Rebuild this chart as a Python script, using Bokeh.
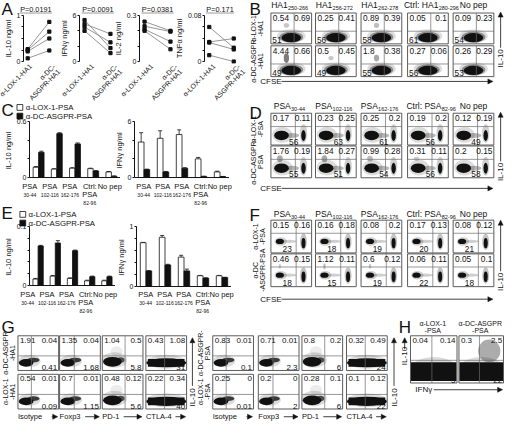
import math
from bokeh.plotting import figure
from bokeh.models import (Range1d, FactorRange, FixedTicker, ColumnDataSource, Arrow, NormalHead,
                          Span, GridBox)
from bokeh.core.properties import value
from bokeh.transform import dodge
from bokeh.embed import file_html
from bokeh.resources import INLINE

FONT = "Liberation Sans"
INK = "#111111"
BOXC = "#4a4a4a"
W_OUT, H_OUT = 504, 422
W_REF, H_REF = 520.0, 438.0
SX = W_OUT / W_REF
SY = H_OUT / H_REF

# ---------------------------------------------------------------- data
# Panel A (paired donors)
A_groups = ["α-LOX-1-HA1", "α-DC-\nASGPR-HA1"]
A_pvalues = ["P=0.0191", "P=0.0091", "P=0.0381", "P=0.171"]
A_ylabels = ["IL-10 ng/ml", "IFNγ ng/ml", "IL-2 ng/ml", "TNFα ng/ml"]
A_ymax = [1.0, 6.0, 0.3, 0.08]
A_ymax_labels = ["1", "6", "0.3", "0.08"]
A_minor = [[0.25, 0.5, 0.75], [2, 4], [0.1, 0.2], [0.02, 0.04, 0.06]]
A_il10_lox = [0.27, 0.25, 0.22, 0.07]
A_il10_asgpr = [0.86, 0.65, 0.50, 0.24]
A_ifng_lox = [5.4, 4.9, 4.5, 4.0]
A_ifng_asgpr = [1.75, 3.6, 2.5, 1.1]
A_il2_lox = [0.26, 0.23, 0.21, 0.20]
A_il2_asgpr = [0.20, 0.195, 0.13, 0.08]
A_tnfa_lox = [0.060, 0.034, 0.033, 0.011]
A_tnfa_asgpr = [0.024, 0.040, 0.021, 0.0]
A_lox = [A_il10_lox, A_ifng_lox, A_il2_lox, A_tnfa_lox]
A_asgpr = [A_il10_asgpr, A_ifng_asgpr, A_il2_asgpr, A_tnfa_asgpr]

# Panels C / E (bars, mean + error)
PSA_groups = ["PSA 30-44", "PSA 102-116", "PSA 162-176", "Ctrl: PSA 82-96", "No pep"]
PSA_main = ["PSA", "PSA", "PSA", "Ctrl:", "No pep"]
PSA_sub = ["30-44", "102-116", "162-176", "82-96", ""]
series_names = ["α-LOX-1-PSA", "α-DC-ASGPR-PSA"]
C_il10_lox = [0.11, 0.09, 0.10, 0.095, 0.06]
C_il10_lox_err = [0.008, 0.004, 0.005, 0.005, 0.004]
C_il10_asgpr = [0.27, 0.47, 0.36, 0.07, 0.014]
C_il10_asgpr_err = [0.012, 0.010, 0.010, 0.004, 0.003]
C_ifng_lox = [3.8, 4.2, 4.6, 2.0, 0.6]
C_ifng_lox_err = [1.0, 0.8, 0.5, 0.15, 0.08]
C_ifng_asgpr = [0.85, 0.6, 1.0, 0.12, 0.1]
C_ifng_asgpr_err = [0.05, 0.05, 0.05, 0.02, 0.02]
E_il10_lox = [0.011, 0.016, 0.012, 0.008, 0.008]
E_il10_lox_err = [0.001, 0.001, 0.001, 0.001, 0.001]
E_il10_asgpr = [0.067, 0.072, 0.059, 0.015, 0.015]
E_il10_asgpr_err = [0.001, 0.004, 0.001, 0.001, 0.001]
E_ifng_lox = [0.73, 0.82, 0.49, 0.18, 0.18]
E_ifng_lox_err = [0.005, 0.03, 0.03, 0.005, 0.005]
E_ifng_asgpr = [0.26, 0.36, 0.26, 0.14, 0.15]
E_ifng_asgpr_err = [0.005, 0.01, 0.03, 0.005, 0.005]

# Panel B (IL-10 vs CFSE, % per quadrant)
B_cols = [("HA1", "250-266"), ("HA1", "256-272"), ("HA1", "262-278"), ("Ctrl: HA1", "280-296"), ("No pep", "")]
B_rows = ["α-LOX-1\n-HA1", "α-DC-ASGPR\n-HA1"]
B_ul = [[0.54, 0.25, 0.89, 0.05, 0.09], [4.44, 0.5, 1.8, 0.27, 0.26]]
B_ur = [[0.69, 0.41, 0.39, 0.1, 0.23], [0.66, 0.45, 0.38, 0.06, 0.29]]
B_ll = [[51, 56, 58, 61, 54], [49, 49, 55, 56, 53]]

# Panels D / F
PSA_cols = [("PSA", "30-44"), ("PSA", "102-116"), ("PSA", "162-176"), ("Ctrl: PSA", "82-96"), ("No pep", "")]
D_rows = ["α-LOX-1\n-PSA", "α-DC-ASGPR-\nPSA"]
D_ul = [[0.17, 0.23, 0.25, 0.19, 0.12], [1.76, 1.84, 0.99, 0.31, 0.2]]
D_ur = [[0.11, 0.25, 0.2, 0.2, 0.19], [0.19, 0.27, 0.28, 0.11, 0.15]]
D_lo = [[56, 63, 61, 56, 49], [55, 51, 54, 56, 58]]
F_rows = ["α-LOX-1\n-PSA", "α-DC\n-ASGPR-PSA"]
F_ul = [[0.15, 0.16, 0.08, 0.17, 0.08], [0.46, 1.12, 0.6, 0.06, 0.05]]
F_ur = [[0.16, 0.18, 0.2, 0.13, 0.12], [0.15, 0.11, 0.12, 0.11, 0.1]]
F_lo = [[23, 18, 19, 20, 21], [18, 15, 19, 22, 18]]

# Panel G
G_markers = ["Isotype", "Foxp3", "PD-1", "CTLA-4"]
G_rows_ha1 = ["α-DC-ASGPR\n-HA1", "α-LOX-1\n-HA1"]
G_rows_psa = ["α-DC-ASGPR-\nPSA", "α-LOX-1\n-PSA"]
G_ha1_ul = [[1.91, 1.35, 1.04, 0.43], [0.54, 0.7, 0.48, 0.22]]
G_ha1_ur = [[0.04, 0.04, 0.5, 1.08], [0.01, 0.01, 0.12, 0.34]]
G_ha1_lr = [[0.41, 1.68, 5.8, 31], [0.09, 1.15, 5.6, 40]]
G_psa_ul = [[0.83, 0.71, 0.8, 0.32], [0.25, 0.2, 0.28, 0.1]]
G_psa_ur = [[0.01, 0.01, 0.2, 0.49], [0, 0, 0.1, 0.12]]
G_psa_lr = [[0.1, 2.3, 6, 24], [0.01, 2, 6, 22]]

# Panel H
H_titles = ["α-LOX-1\n-PSA", "α-DC-ASGPR\n-PSA"]
H_ul = [0.04, 0.3]
H_ur = [0.14, 2.5]
H_lr = [5, 22]


# ---------------------------------------------------------------- helpers
def est_w(s, fs):
    return len(s) * fs * 0.55 / SX


def fmt(v):
    return str(v)


def style_axis(ax):
    ax.major_label_text_font = FONT
    ax.major_label_text_font_size = "7px"
    ax.major_label_text_color = INK
    ax.axis_label_text_font = FONT
    ax.axis_label_text_font_size = "7.5px"
    ax.axis_label_text_font_style = "normal"
    ax.axis_label_text_color = INK
    ax.axis_label_standoff = 1
    ax.major_label_standoff = 1
    ax.major_tick_in = 0
    ax.major_tick_out = 2
    ax.minor_tick_in = 0
    ax.minor_tick_out = 2
    ax.axis_line_color = INK
    ax.major_tick_line_color = INK
    ax.minor_tick_line_color = INK


def data_fig(fl, fr, ft, fb, L, x_range, y_range, T=6, B=6):
    """Figure whose frame covers the reference box (fl..fr, ft..fb); placed with margins."""
    lo, ro = round(fl * SX), round(fr * SX)
    to, bo = round(ft * SY), round(fb * SY)
    p = figure(width=L + (ro - lo), height=T + (bo - to) + B, x_range=x_range, y_range=y_range,
               output_backend="svg", toolbar_location=None, x_axis_location=None, title=None,
               min_border_left=L, min_border_right=0, min_border_top=T, min_border_bottom=B)
    p.background_fill_color = None
    p.border_fill_color = None
    p.outline_line_color = None
    p.grid.visible = False
    p.frame_align = False
    p.margin = (to - T, 0, 0, max(0, lo - L))
    return p


def y_range_for(ymax, top_ref, zero_ref, pad_top, pad_bot):
    u = ymax / (zero_ref - top_ref)
    return Range1d(-pad_bot * u, ymax + pad_top * u)


class Overlay:
    def __init__(self):
        p = figure(width=W_OUT, height=H_OUT, x_range=Range1d(0, W_REF), y_range=Range1d(H_REF, 0),
                   output_backend="svg", toolbar_location=None, x_axis_location=None,
                   y_axis_location=None, min_border=0, title=None)
        p.background_fill_color = None
        p.border_fill_color = None
        p.outline_line_color = None
        p.grid.visible = False
        p.frame_align = False
        p.margin = (0, 0, 0, 0)
        self.p = p
        self.q = dict(l=[], r=[], t=[], b=[])
        self.s = dict(x0=[], y0=[], x1=[], y1=[])
        self.e = dict(x=[], y=[], w=[], h=[], a=[])
        self.rc = dict(x=[], y=[], w=[], h=[], a=[])
        self.sq = dict(l=[], r=[], t=[], b=[], c=[])
        self.ln = dict(x0=[], y0=[], x1=[], y1=[])
        self.t = {}
        self.arrows = []

    def box(self, bx, by, bw, bh, vline, hline, blobs):
        for kind, u, v, w, h, a in blobs:
            d = self.e if kind == "e" else self.rc
            d["x"].append(bx + u * bw)
            d["y"].append(by + (1 - v) * bh)
            d["w"].append(w * bw)
            d["h"].append(h * bh)
            d["a"].append(a)
        self.q["l"].append(bx); self.q["r"].append(bx + bw)
        self.q["t"].append(by); self.q["b"].append(by + bh)
        vx = bx + vline * bw
        hy = by + (1 - hline) * bh
        self.s["x0"] += [vx, bx]; self.s["x1"] += [vx, bx + bw]
        self.s["y0"] += [by, hy]; self.s["y1"] += [by + bh, hy]

    def square(self, l, t, size, color):
        self.sq["l"].append(l); self.sq["r"].append(l + size)
        self.sq["t"].append(t); self.sq["b"].append(t + size); self.sq["c"].append(color)

    def line(self, x0, y0, x1, y1):
        self.ln["x0"].append(x0); self.ln["y0"].append(y0)
        self.ln["x1"].append(x1); self.ln["y1"].append(y1)

    def text(self, x, y, s, fs, align="left", baseline="middle", angle=0.0, lh=1.0):
        d = self.t.setdefault((fs, align, baseline, angle, lh), dict(x=[], y=[], s=[]))
        d["x"].append(x); d["y"].append(y); d["s"].append(s)

    def arrow(self, x0, y0, x1, y1):
        self.arrows.append((x0, y0, x1, y1))

    def title(self, base, sub, cx, y, fs=8.5, sfs=5.5):
        if sub:
            a = cx + (est_w(base, fs) - est_w(sub, sfs)) / 2
            self.text(a, y, base, fs, "right", "middle")
            self.text(a + 0.3, y + 2.5, sub, sfs, "left", "middle")
        else:
            self.text(cx, y, base, fs, "center", "middle")

    def flush(self):
        p = self.p
        p.ellipse(x="x", y="y", width="w", height="h", fill_alpha="a", source=ColumnDataSource(self.e),
                  fill_color=INK, line_color=None)
        p.rect(x="x", y="y", width="w", height="h", fill_alpha="a", source=ColumnDataSource(self.rc),
               fill_color=INK, line_color=None)
        p.quad(left="l", right="r", top="t", bottom="b", source=ColumnDataSource(self.q),
               fill_color=None, line_color=BOXC, line_width=0.9)
        p.segment(x0="x0", y0="y0", x1="x1", y1="y1", source=ColumnDataSource(self.s),
                  line_color="#6a6a6a", line_width=0.7)
        p.segment(x0="x0", y0="y0", x1="x1", y1="y1", source=ColumnDataSource(self.ln),
                  line_color="#555555", line_width=0.6)
        p.quad(left="l", right="r", top="t", bottom="b", fill_color="c", source=ColumnDataSource(self.sq),
               line_color=INK, line_width=0.8)
        for (fs, align, baseline, angle, lh), d in self.t.items():
            p.text(x=d["x"], y=d["y"], text=d["s"], text_font=value(FONT), text_font_size=f"{fs}px",
                   text_align=align, text_baseline=baseline, angle=angle, text_color=INK,
                   text_line_height=lh)
        for x0, y0, x1, y1 in self.arrows:
            p.add_layout(Arrow(end=NormalHead(size=5, fill_color=INK, line_color=INK, line_width=0.5),
                               x_start=x0, y_start=y0, x_end=x1, y_end=y1,
                               line_color=INK, line_width=0.8))
        return p


OV = Overlay()
FIGS = []


def ul_blob(ul, u, v, w):
    if ul < 0.3:
        return []
    return [("e", u, v, w, min(0.4, 0.12 * math.sqrt(ul) + 0.06), min(0.55, 0.18 + 0.1 * ul))]


# ---------------------------------------------------------------- panel A
A_frames = [(18, 55), (82, 119), (143, 181), (207, 246)]
A_TOP, A_ZERO = 16, 63
A_PAD = -0.306


def a_plot(i):
    fl, fr = A_frames[i]
    L = 17 if i == 0 else 30
    p = data_fig(fl, fr, A_TOP - 2, A_ZERO + 2, L,
                 FactorRange(*A_groups, range_padding=A_PAD),
                 y_range_for(A_ymax[i], A_TOP, A_ZERO, 2, 2))
    n = len(A_lox[i])
    for k in range(n):
        p.line(x=A_groups, y=[A_lox[i][k], A_asgpr[i][k]], line_color="#8a8a8a", line_width=0.9)
    p.scatter(x=[A_groups[0]] * n + [A_groups[1]] * n, y=A_lox[i] + A_asgpr[i],
              marker="square", size=3.2, color=INK)
    style_axis(p.yaxis)
    p.yaxis.ticker = FixedTicker(ticks=[0, A_ymax[i]], minor_ticks=A_minor[i])
    p.yaxis.major_label_overrides = {0: "0", A_ymax[i]: A_ymax_labels[i]}
    p.yaxis.axis_label = A_ylabels[i]
    p.yaxis.bounds = (0, A_ymax[i])
    FIGS.append(p)
    # decorations (reference-pixel positions)
    cx = (fl + fr) / 2
    OV.text(cx, 9, A_pvalues[i], 7.3, "center", "middle")
    wpx = est_w(A_pvalues[i], 7.3)
    OV.line(cx - wpx / 2, 13, cx + wpx / 2, 13)
    w = fr - fl
    f0 = (0.5 - (-A_PAD)) / (2 + 2 * A_PAD)
    for k, g in enumerate(A_groups):
        xk = fl + (f0 if k == 0 else 1 - f0) * w
        OV.text(xk + 8, 67 if k == 0 else 70, g, 7.0, "right", "middle", math.pi / 4)


# ---------------------------------------------------------------- panels C / E
def bar_plot(fl, fr, top_ref, zero_ref, L, lox, lox_err, asg, asg_err, ymax, ymax_label, minor, ylabel,
             lab_y, legend_xy=None):
    p = data_fig(fl, fr, top_ref - 1, zero_ref + 1, L, FactorRange(*PSA_groups),
                 y_range_for(ymax, top_ref, zero_ref, 1, 1))
    src = ColumnDataSource(dict(g=PSA_groups, lox=lox, asg=asg,
                                lox_top=[a + b for a, b in zip(lox, lox_err)],
                                asg_top=[a + b for a, b in zip(asg, asg_err)]))
    xl = dodge("g", -0.15, range=p.x_range)
    xa = dodge("g", 0.15, range=p.x_range)
    for xx, yy, tt in ((xl, "lox", "lox_top"), (xa, "asg", "asg_top")):
        p.segment(x0=xx, y0=yy, x1=xx, y1=tt, source=src, line_color=INK, line_width=0.8)
        p.scatter(x=xx, y=tt, marker="dash", size=4, line_color=INK, line_width=0.8, source=src)
    p.vbar(x=xl, top="lox", width=0.3, source=src, fill_color="white", line_color=INK, line_width=0.8)
    p.vbar(x=xa, top="asg", width=0.3, source=src, fill_color=INK, line_color=INK, line_width=0.8)
    p.add_layout(Span(location=0, dimension="width", line_color=INK, line_width=1))
    style_axis(p.yaxis)
    p.yaxis.ticker = FixedTicker(ticks=[0, ymax], minor_ticks=minor)
    p.yaxis.major_label_overrides = {0: "0", ymax: ymax_label}
    p.yaxis.axis_label = ylabel
    p.yaxis.bounds = (0, ymax)
    FIGS.append(p)
    step = (fr - fl) / len(PSA_groups)
    for k in range(len(PSA_groups)):
        cx = fl + (k + 0.5) * step
        OV.text(cx, lab_y, PSA_main[k], 7.5, "center", "middle")
        if k == 3:
            OV.text(cx, lab_y + 8.5, "PSA", 7.5, "center", "middle")
            OV.text(cx, lab_y + 17, PSA_sub[k], 5, "center", "middle")
        elif PSA_sub[k]:
            OV.text(cx, lab_y + 9, PSA_sub[k], 5, "center", "middle")
    if legend_xy is not None:
        lx, ly = legend_xy
        for k, (nm, col) in enumerate(zip(series_names, ["white", INK])):
            OV.square(lx, ly + k * 9 - 3, 6, col)
            OV.text(lx + 9, ly + k * 9, nm, 7.8, "left", "middle")


# ---------------------------------------------------------------- flow panels B / D / F
COL_X = [279, 325, 372, 420, 467]
COL_W = 42


def cfse_panel(f, letter_s, letter_y, cols, rows, rows_y, rows_h, title_y, ul, ur, lo, kind,
               cfse_y, il10_y, il10_top, row_label_x):
    f.text(257, letter_y, letter_s, 17, "left", "top")
    for j, (base, sub) in enumerate(cols):
        f.title(base, sub, COL_X[j] + COL_W / 2, title_y)
    for r in range(2):
        by = rows_y[r]
        f.text(row_label_x, by + rows_h / 2, rows[r], 7, "center", "middle", math.pi / 2)
        for j in range(5):
            bx = COL_X[j]
            if kind == "B":
                vl, hl = 0.57, 0.41
                bl = [("e", 0.5, 0.25, 0.7, 0.44, 0.15), ("e", 0.5, 0.22, 0.58, 0.36, 0.4),
                      ("e", 0.5, 0.2, 0.48, 0.3, 1.0)] + ul_blob(ul[r][j], 0.38, 0.6, 0.13)
            elif kind == "D":
                vl, hl = 0.6, 0.58
                bl = [("e", 0.28, 0.32, 0.5, 0.5, 0.15), ("e", 0.52, 0.3, 0.35, 0.16, 0.3),
                      ("e", 0.26, 0.3, 0.36, 0.3, 1.0), ("e", 0.8, 0.36, 0.18, 0.6, 0.2),
                      ("e", 0.8, 0.3, 0.11, 0.34, 1.0)] + ul_blob(ul[r][j], 0.22, 0.6, 0.14)
            else:
                vl, hl = 0.62, 0.6
                bl = [("e", 0.24, 0.35, 0.3, 0.26, 0.2), ("e", 0.45, 0.35, 0.35, 0.1, 0.2),
                      ("e", 0.22, 0.35, 0.2, 0.16, 1.0), ("e", 0.8, 0.34, 0.17, 0.5, 0.25),
                      ("e", 0.8, 0.3, 0.1, 0.32, 1.0)] + ul_blob(ul[r][j], 0.22, 0.62, 0.06)
            f.box(bx, by, COL_W, rows_h, vl, hl, bl)
            f.text(bx + 2, by + 2, fmt(ul[r][j]), 8.3, "left", "top")
            f.text(bx + COL_W - 1.5, by + 2, fmt(ur[r][j]), 8.3, "right", "top")
            if kind == "B":
                f.text(bx + 1.5, by + rows_h - 0.5, fmt(lo[r][j]), 8.3, "left", "bottom")
            elif kind == "D":
                f.text(bx + (vl - 0.04) * COL_W, by + rows_h - 0.5, fmt(lo[r][j]), 8.3, "center", "bottom")
            else:
                f.text(bx + (vl - 0.22) * COL_W, by + rows_h - 0.5, fmt(lo[r][j]), 8.3, "center", "bottom")
    f.text(268, cfse_y, "CFSE", 8, "left", "middle")
    f.arrow(290, cfse_y, 508, cfse_y)
    f.text(516, il10_y, "IL-10", 8, "center", "middle", math.pi / 2)
    f.arrow(516, il10_y - 11, 516, il10_top)


# ---------------------------------------------------------------- panel G
def g_panel(f):
    f.text(1, 330, "G", 17, "left", "top")
    rows_y = [348, 388]
    bh = 36
    groups = [([18, 61, 105, 150], G_rows_ha1, G_ha1_ul, G_ha1_ur, G_ha1_lr, 9, 198),
              ([219, 266, 311, 357], G_rows_psa, G_psa_ul, G_psa_ur, G_psa_lr, 210, 406)]
    vls = [0.33, 0.36, 0.56, 0.46]
    for xs, rlabels, ul, ur, lr, rlx, ilx in groups:
        for r in range(2):
            by = rows_y[r]
            f.text(rlx, by + bh / 2, rlabels[r], 7, "center", "middle", math.pi / 2)
            for j in range(4):
                bx = xs[j]
                if j < 2:
                    bl = [("e", 0.28, 0.27, 0.55, 0.36, 0.15), ("e", 0.38, 0.3, 0.3, 0.14, 0.8),
                          ("e", 0.2, 0.22, 0.36, 0.22, 1.0)]
                elif j == 2:
                    bl = [("e", 0.35, 0.55, 0.3, 0.3, 0.08), ("e", 0.3, 0.3, 0.62, 0.45, 0.15),
                          ("e", 0.45, 0.3, 0.2, 0.16, 0.7), ("e", 0.25, 0.25, 0.46, 0.28, 1.0)]
                else:
                    bl = [("e", 0.5, 0.25, 0.98, 0.4, 0.15), ("r", 0.5, 0.22, 0.9, 0.22, 1.0),
                          ("e", 0.5, 0.22, 0.98, 0.26, 1.0)]
                f.box(bx, by, COL_W, bh, vls[j], 0.42, bl)
                f.text(bx + 2, by + 2, fmt(ul[r][j]), 8, "left", "top")
                f.text(bx + COL_W - 1.5, by + 2, fmt(ur[r][j]), 8, "right", "top")
                f.text(bx + COL_W - 1.5, by + bh - 0.5, fmt(lr[r][j]), 8, "right", "bottom")
        for j in range(4):
            f.text(xs[j], 432, G_markers[j], 7.5, "left", "middle")
            f.arrow(xs[j] + est_w(G_markers[j], 7.5) + 5, 432, xs[j] + 41, 432)
        f.text(ilx, 412, "IL-10", 8, "center", "middle", math.pi / 2)
        f.arrow(ilx, 400, ilx, 350)


# ---------------------------------------------------------------- panel H
def h_panel(f):
    f.text(411, 330, "H", 17, "left", "top")
    xs = [423, 473]
    ws = [48, 46]
    by, bh = 348, 49
    for j in range(2):
        bx, bw = xs[j], ws[j]
        bl = [("e", 0.5, 0.3, 1.0, 0.5, 0.15), ("r", 0.5, 0.24, 0.98, 0.4, 1.0)]
        if H_ur[j] >= 1:
            bl.append(("e", 0.68, 0.68, 0.5, 0.48, 0.35))
        f.box(bx, by, bw, bh, 0.46, 0.48, bl)
        f.text(bx + bw / 2 - 1, 339, H_titles[j], 7, "center", "middle")
        f.text(bx + 2, by + 2.5, fmt(H_ul[j]), 8, "left", "top")
        f.text(bx + bw - 1.5, by + 2.5, fmt(H_ur[j]), 8, "right", "top")
        f.text(bx + bw - 1.5, by + bh - 0.5, fmt(H_lr[j]), 8, "right", "bottom")
    f.text(417, 369, "IL-10", 8, "center", "middle", math.pi / 2)
    f.arrow(417, 362, 417, 350)
    f.text(428, 404, "IFNγ", 8, "left", "middle")
    f.arrow(447, 404, 518, 404)


# ---------------------------------------------------------------- assemble
OV.text(1, -1, "A", 17, "left", "top")
for i in range(4):
    a_plot(i)

cfse_panel(OV, "B", -1, B_cols, B_rows, [13, 47], 32, 5, B_ul, B_ur, B_ll, "B", 84, 60, 12, 265)

OV.text(1, 104, "C", 17, "left", "top")
bar_plot(20, 123, 126, 184, 20, C_il10_lox, C_il10_lox_err, C_il10_asgpr, C_il10_asgpr_err, 0.6, "0.6",
         [0.2, 0.4], "IL-10  ng/ml", 193, legend_xy=(17, 111))
bar_plot(138, 236, 126, 184, 30, C_ifng_lox, C_ifng_lox_err, C_ifng_asgpr, C_ifng_asgpr_err, 6, "6",
         [2, 4], "IFNγ  ng/ml", 193)
cfse_panel(OV, "D", 107, PSA_cols, D_rows, [117, 151], 33, 110, D_ul, D_ur, D_lo, "D", 195, 178, 116, 265)

OV.text(1, 211, "E", 17, "left", "top")
bar_plot(18, 118, 235, 296, 18, E_il10_lox, E_il10_lox_err, E_il10_asgpr, E_il10_asgpr_err, 0.1, "0.1",
         [0.02, 0.04, 0.06, 0.08], "IL-10  ng/ml", 305, legend_xy=(20, 222))
bar_plot(140, 238, 235, 297, 30, E_ifng_lox, E_ifng_lox_err, E_ifng_asgpr, E_ifng_asgpr_err, 1, "1",
         [0.2, 0.4, 0.6, 0.8], "IFNγ  ng/ml", 305)
cfse_panel(OV, "F", 213, PSA_cols, F_rows, [228, 263], 34, 222, F_ul, F_ur, F_lo, "F", 310, 292, 228, 267)

g_panel(OV)
h_panel(OV)

overlay = OV.flush()
children = [(fig, 0, 0) for fig in FIGS] + [(overlay, 0, 0)]
page = GridBox(children=children)

with open("out.html", "w") as fh:
    fh.write(file_html(page, INLINE))
